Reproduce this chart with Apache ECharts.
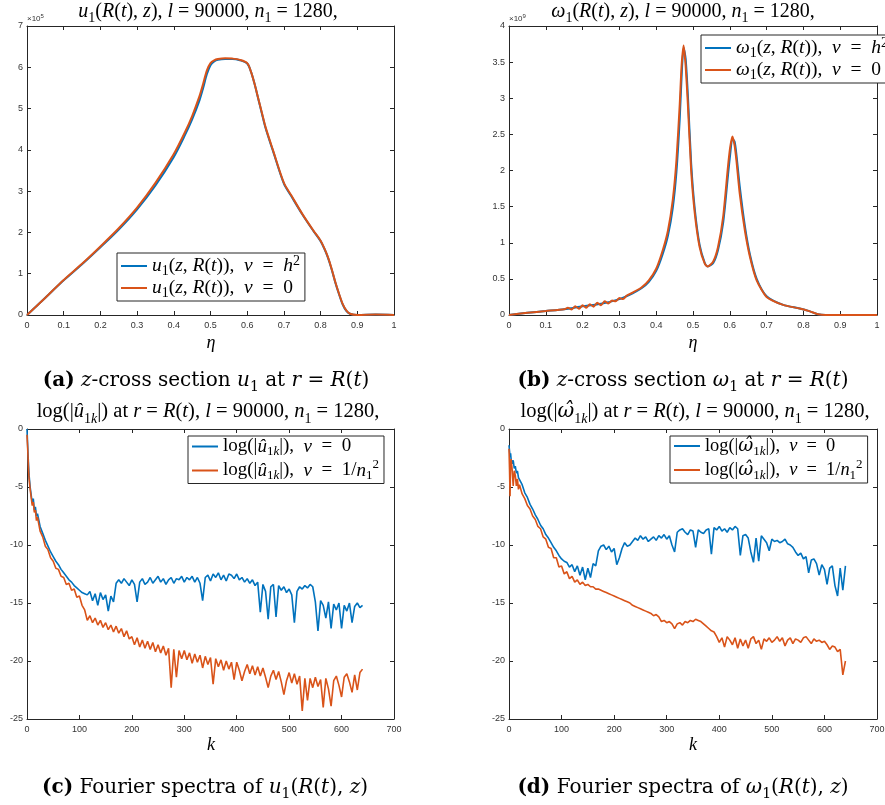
<!DOCTYPE html>
<html><head><meta charset="utf-8">
<script src="https://cdn.jsdelivr.net/npm/echarts@6/dist/echarts.min.js"></script>
<style>html,body{margin:0;padding:0;background:#fff}#c{width:885px;height:805px}</style>
</head><body><div id="c"></div><script>
// ---------- data ----------
const etaU = [0, 0.05, 0.1, 0.15, 0.2, 0.25, 0.3, 0.35, 0.4, 0.43, 0.45, 0.47, 0.48, 0.49, 0.5, 0.51, 0.52, 0.54, 0.56, 0.58, 0.6, 0.61, 0.62, 0.63, 0.64, 0.65, 0.67, 0.7, 0.72, 0.75, 0.78, 0.8, 0.81, 0.82, 0.83, 0.84, 0.85, 0.86, 0.87, 0.88, 0.9, 0.95, 1.0];
const uNuH2 = [0, 0.42, 0.84, 1.23, 1.64, 2.07, 2.56, 3.14, 3.83, 4.35, 4.74, 5.2, 5.5, 5.83, 6.05, 6.14, 6.18, 6.2, 6.2, 6.17, 6.09, 5.9, 5.6, 5.24, 4.88, 4.53, 3.98, 3.18, 2.88, 2.44, 2.04, 1.79, 1.61, 1.39, 1.11, 0.79, 0.51, 0.26, 0.1, 0.03, 0.0, 0.01, 0.0];
const uNu0 = [0, 0.42, 0.85, 1.24, 1.66, 2.1, 2.6, 3.2, 3.9, 4.42, 4.82, 5.3, 5.6, 5.92, 6.1, 6.17, 6.2, 6.22, 6.21, 6.18, 6.1, 5.9, 5.6, 5.25, 4.9, 4.55, 4.0, 3.2, 2.9, 2.45, 2.05, 1.8, 1.62, 1.4, 1.12, 0.8, 0.52, 0.27, 0.11, 0.03, 0.0, 0.01, 0.0];

const etaW = [0, 0.05, 0.1, 0.15, 0.2, 0.25, 0.3, 0.336, 0.36, 0.38, 0.4, 0.418, 0.432, 0.445, 0.455, 0.464, 0.469, 0.4745, 0.48, 0.486, 0.495, 0.505, 0.518, 0.532, 0.54, 0.555, 0.568, 0.582, 0.595, 0.601, 0.607, 0.613, 0.618, 0.627, 0.641, 0.655, 0.673, 0.7, 0.745, 0.79, 0.818, 0.84, 0.86, 0.9, 1.0];
const wNuH2 = [0, 0.03, 0.055, 0.08, 0.12, 0.155, 0.22, 0.3, 0.37, 0.46, 0.61, 0.85, 1.1, 1.48, 1.98, 2.72, 3.3, 3.7, 3.55, 3.05, 2.1, 1.46, 0.97, 0.72, 0.67, 0.72, 0.9, 1.28, 1.93, 2.22, 2.44, 2.4, 2.22, 1.78, 1.23, 0.83, 0.5, 0.26, 0.14, 0.09, 0.05, 0.01, 0, 0, 0];
const etaW0 = [0, 0.05, 0.1, 0.15, 0.16, 0.17, 0.18, 0.19, 0.2, 0.21, 0.22, 0.23, 0.24, 0.25, 0.26, 0.27, 0.28, 0.29, 0.3, 0.31, 0.32, 0.336, 0.36, 0.38, 0.4, 0.418, 0.432, 0.445, 0.455, 0.464, 0.469, 0.4745, 0.48, 0.486, 0.495, 0.505, 0.518, 0.532, 0.54, 0.555, 0.568, 0.582, 0.595, 0.601, 0.607, 0.613, 0.618, 0.627, 0.641, 0.655, 0.673, 0.7, 0.745, 0.79, 0.818, 0.84, 0.86, 0.9, 1.0];
const wNu0 = [0, 0.03, 0.055, 0.08, 0.1, 0.075, 0.12, 0.085, 0.135, 0.1, 0.15, 0.115, 0.17, 0.135, 0.19, 0.16, 0.2, 0.19, 0.235, 0.22, 0.27, 0.31, 0.38, 0.48, 0.64, 0.9, 1.17, 1.59, 2.14, 2.92, 3.45, 3.73, 3.45, 2.92, 2.0, 1.4, 0.94, 0.71, 0.67, 0.74, 0.94, 1.36, 2.05, 2.32, 2.47, 2.35, 2.14, 1.68, 1.17, 0.8, 0.48, 0.25, 0.14, 0.09, 0.05, 0.01, 0, 0, 0];

const kSpec = [0, 1, 2, 3, 4, 6, 8, 10, 12, 14, 16, 18,
  20, 25, 30, 35, 40, 45, 50, 55, 60, 65, 70, 75, 80, 85, 90, 95, 100, 105, 110, 115,
  120, 125, 130, 135, 140, 145, 150, 155, 160, 165, 170, 175, 180, 185, 190, 195, 200, 205, 210, 215,
  220, 225, 230, 235, 240, 245, 250, 255, 260, 265, 270, 275, 280, 285, 290, 295, 300, 305, 310, 315,
  320, 325, 330, 335, 340, 345, 350, 355, 360, 365, 370, 375, 380, 385, 390, 395, 400, 405, 410, 415,
  420, 425, 430, 435, 440, 445, 450, 455, 460, 465, 470, 475, 480, 485, 490, 495, 500, 505, 510, 515,
  520, 525, 530, 535, 540, 545, 550, 555, 560, 565, 570, 575, 580, 585, 590, 595, 600, 605, 610, 615,
  620, 625, 630, 635, 640];
const logU_nu0 = [0, -1.1, -2.2, -3.2, -4.0, -5.0, -5.7, -6.4, -6.0, -7.0, -6.7, -7.5,
  -7.3, -8.4, -9.0, -9.6, -10.1, -10.6, -11.0, -11.4, -11.7, -12.1, -12.4, -12.7, -13.0, -13.2, -13.5, -13.7, -13.9, -14.1, -14.2, -14.3,
  -14.0, -14.8, -14.2, -15.2, -14.1, -14.7, -14.3, -15.7, -14.4, -14.9, -13.3, -13.0, -13.3, -12.9, -13.2, -13.5, -13.0, -13.4, -14.9, -13.2,
  -12.9, -13.4, -13.2, -12.8, -13.3, -13.0, -12.7, -13.2, -12.9, -13.4, -13.0, -12.8, -13.3, -12.9, -13.0, -12.7, -13.2, -12.8, -13.0, -12.7,
  -13.2, -12.8, -13.3, -14.8, -12.8, -12.6, -13.1, -12.5, -12.8, -12.4, -13.0, -12.6, -13.1, -12.5, -12.6, -12.9, -12.5, -13.0, -12.8, -13.2,
  -12.9, -13.3, -13.0, -13.5, -13.2, -15.8, -13.4, -14.0, -16.4, -13.6, -13.4, -16.2, -13.5, -13.9, -13.6, -14.1, -13.8, -14.3, -16.7, -14.0,
  -13.6, -13.8, -13.5, -13.7, -13.4, -13.6, -14.9, -17.4, -14.8, -15.2, -16.3, -14.9, -17.2, -15.1, -15.6, -15.0, -17.2, -15.2, -15.7, -15.0,
  -16.7, -15.3, -15.0, -15.4, -15.2];
const logU_nu1 = [-0.5, -1.4, -2.4, -3.6, -4.3, -5.2, -5.9, -6.6, -6.3, -7.2, -7.0, -7.9,
  -7.6, -8.8, -9.3, -10.1, -10.4, -11.1, -11.4, -12.0, -12.1, -12.7, -12.8, -13.4, -13.3, -13.9, -13.8, -14.5, -14.4, -15.2, -15.6, -16.5,
  -16.1, -16.7, -16.3, -16.9, -16.5, -17.1, -16.7, -17.3, -16.9, -17.5, -17.0, -17.6, -17.2, -17.9, -17.4, -18.1, -17.9, -18.6, -18.0, -18.8,
  -18.2, -18.9, -18.3, -19.0, -18.4, -19.2, -18.6, -19.3, -18.7, -19.5, -18.9, -22.3, -19.0, -21.4, -19.1, -19.8, -19.1, -19.9, -19.3, -20.2,
  -19.4, -20.1, -19.5, -20.6, -19.6, -20.3, -19.7, -22.0, -19.8, -20.5, -19.9, -20.8, -20.0, -20.7, -20.1, -21.6, -20.1, -20.8, -21.7, -20.9,
  -20.3, -21.1, -20.4, -21.2, -20.5, -21.3, -20.6, -21.4, -22.3, -21.3, -20.8, -21.6, -20.9, -21.8, -22.9, -21.7, -21.0, -21.9, -21.1, -22.0,
  -21.3, -24.3, -21.5, -23.4, -21.5, -22.3, -21.4, -22.2, -21.6, -24.0, -21.5, -22.4, -23.9, -21.7, -21.3, -22.1, -23.1, -21.4, -21.1, -21.8,
  -22.7, -21.2, -22.5, -21.0, -20.7];
const logW_nu0 = [-1.4, -1.9, -2.4, -2.1, -2.6, -3.0, -2.7, -3.4, -3.2, -3.8, -3.6, -4.2,
  -4.1, -4.8, -5.5, -5.9, -6.5, -6.9, -7.4, -7.8, -8.3, -8.6, -9.1, -9.4, -9.8, -10.2, -10.5, -10.9, -11.2, -11.4, -11.5, -11.9,
  -11.7, -12.3, -11.8, -12.6, -11.9, -13.0, -12.0, -12.8, -11.6, -11.8, -10.5, -10.1, -10.0, -10.4, -10.1, -10.6, -10.3, -11.7, -11.1, -10.3,
  -9.8, -10.1, -10.0, -9.7, -9.4, -9.6, -9.2, -9.5, -9.3, -9.7, -9.5, -9.3, -9.6, -9.2, -9.4, -9.1, -9.5, -9.2, -10.0, -10.6,
  -8.9, -8.7, -8.6, -8.9, -9.1, -8.7, -8.8, -10.2, -8.7, -8.9, -9.0, -8.7, -8.6, -10.8, -8.5, -8.7, -8.4, -8.8, -8.6, -8.9,
  -8.5, -8.7, -8.4, -8.6, -10.9, -9.2, -9.1, -9.4, -10.6, -11.5, -9.4, -11.4, -9.2, -9.5, -9.8, -10.5, -9.5, -9.7, -9.6, -9.8,
  -9.7, -9.5, -9.9, -10.0, -10.2, -10.6, -10.9, -10.7, -11.2, -11.0, -12.4, -11.3, -11.2, -11.6, -12.6, -11.7, -12.1, -13.4, -12.0, -11.8,
  -13.5, -14.4, -12.0, -13.9, -11.8];
const logW_nu1 = [-1.7, -3.5, -5.8, -3.0, -2.6, -3.5, -4.9, -3.6, -4.0, -4.9, -4.3, -5.2,
  -4.8, -5.6, -6.0, -6.6, -6.9, -7.5, -7.8, -8.4, -8.6, -9.3, -9.5, -10.2, -10.3, -11.1, -11.1, -11.9, -11.8, -12.5, -12.3, -12.9,
  -12.7, -13.2, -13.0, -13.4, -13.2, -13.5, -13.4, -13.6, -13.6, -13.8, -13.8, -13.9, -14.0, -14.1, -14.2, -14.3, -14.4, -14.5, -14.6, -14.7,
  -14.8, -14.9, -15.0, -15.2, -15.3, -15.4, -15.5, -15.6, -15.7, -15.8, -15.9, -16.1, -16.0, -16.2, -16.6, -16.5, -16.7, -16.6, -16.8, -17.2,
  -16.8, -16.7, -16.9, -16.6, -16.7, -16.5, -16.6, -16.4, -16.5, -16.6, -16.8, -17.0, -17.2, -17.4, -17.5, -17.9, -18.4, -18.0, -18.8, -17.9,
  -18.2, -18.6, -18.0, -18.9, -18.1, -18.7, -18.2, -18.9, -18.1, -17.9, -18.5, -18.2, -19.0, -18.1, -18.3, -18.0, -18.4, -18.2, -17.9, -18.3,
  -18.0, -18.7, -18.2, -18.0, -18.5, -18.1, -18.2, -18.4, -18.0, -17.9, -18.2, -18.5, -18.1, -18.3, -18.2, -18.4, -18.3, -18.6, -19.0, -18.7,
  -18.8, -19.2, -19.0, -21.2, -20.0];

// ---------- styling ----------
const BLUE = '#0072BD', ORANGE = '#D95319', AX = '#262626';
const SERIF = '"Liberation Serif","DejaVu Serif",serif';
const SERIF2 = '"DejaVu Serif","Liberation Serif",serif';
const SANS = '"Liberation Sans",Arial,sans-serif';

function rich(size, colorProp, fam, lineH) {
  fam = fam || SERIF;
  const sub = Math.round(size * 0.7);
  const lh = lineH || Math.round(size * 1.35);
  const mk = (o) => { const r = Object.assign({fontFamily: fam}, o); r[colorProp] = '#000'; return r; };
  return {
    r: mk({fontSize: size, lineHeight: lh}),
    i: mk({fontSize: size, fontStyle: 'italic', lineHeight: lh}),
    w: mk({fontSize: size, fontStyle: 'italic', lineHeight: lh, fontFamily: SERIF2}),
    b: mk({fontSize: size, fontWeight: 'bold', lineHeight: lh}),
    s: mk({fontSize: sub, lineHeight: sub, verticalAlign: 'bottom'}),
    si: mk({fontSize: sub, fontStyle: 'italic', lineHeight: sub, verticalAlign: 'bottom'}),
    p: mk({fontSize: sub, lineHeight: sub, verticalAlign: 'top'})
  };
}
function gtext(x, y, text, size, fam) {
  return {type: 'text', x: x, y: y, z: 100,
    style: {text: text, rich: rich(size, 'fill', fam), align: 'center', verticalAlign: 'middle'}};
}
function expo(x, y, e) {
  return {type: 'text', x: x, y: y, z: 100, style: {text: '{a|×10}{e|' + e + '}', align: 'left', verticalAlign: 'middle',
    rich: {a: {fontFamily: SANS, fontSize: 8, fill: '#333', lineHeight: 12},
           e: {fontFamily: SANS, fontSize: 6, fill: '#333', lineHeight: 6, verticalAlign: 'top'}}}};
}

const titles = {
  a: '{i|u}{s|1}{r|(}{i|R}{r|(}{i|t}{r|), }{i|z}{r|), }{i|l}{r| = 90000, }{i|n}{s|1}{r| = 1280,}',
  b: '{i|ω}{s|1}{r|(}{i|R}{r|(}{i|t}{r|), }{i|z}{r|), }{i|l}{r| = 90000, }{i|n}{s|1}{r| = 1280,}',
  c: '{r|log(|}{i|û}{s|1}{si|k}{r||) at }{i|r}{r| = }{i|R}{r|(}{i|t}{r|), }{i|l}{r| = 90000, }{i|n}{s|1}{r| = 1280,}',
  d: '{r|log(|}{w|ω\u0302}{s|1}{si|k}{r||) at }{i|r}{r| = }{i|R}{r|(}{i|t}{r|), }{i|l}{r| = 90000, }{i|n}{s|1}{r| = 1280,}'
};
const captions = {
  a: '{b|(a)}{r| }{i|z}{r|-cross section }{i|u}{s|1}{r| at }{i|r}{r| = }{i|R}{r|(}{i|t}{r|)}',
  b: '{b|(b)}{r| }{i|z}{r|-cross section }{i|ω}{s|1}{r| at }{i|r}{r| = }{i|R}{r|(}{i|t}{r|)}',
  c: '{b|(c)}{r| Fourier spectra of }{i|u}{s|1}{r|(}{i|R}{r|(}{i|t}{r|), }{i|z}{r|)}',
  d: '{b|(d)}{r| Fourier spectra of }{i|ω}{s|1}{r|(}{i|R}{r|(}{i|t}{r|), }{i|z}{r|)}'
};
const legendLabels = {
  A1: '{i|u}{s|1}{r|(}{i|z}{r|, }{i|R}{r|(}{i|t}{r|)),  }{i|ν}{r|  =  }{i|h}{p|2}',
  A2: '{i|u}{s|1}{r|(}{i|z}{r|, }{i|R}{r|(}{i|t}{r|)),  }{i|ν}{r|  =  0}',
  B1: '{i|ω}{s|1}{r|(}{i|z}{r|, }{i|R}{r|(}{i|t}{r|)),  }{i|ν}{r|  =  }{i|h}{p|2}',
  B2: '{i|ω}{s|1}{r|(}{i|z}{r|, }{i|R}{r|(}{i|t}{r|)),  }{i|ν}{r|  =  0}',
  C1: '{r|log(|}{i|û}{s|1}{si|k}{r||),  }{i|ν}{r|  =  0}',
  C2: '{r|log(|}{i|û}{s|1}{si|k}{r||),  }{i|ν}{r|  =  1/}{i|n}{s|1}{p|2}',
  D1: '{r|log(|}{w|ω\u0302}{s|1}{si|k}{r||),  }{i|ν}{r|  =  0}',
  D2: '{r|log(|}{w|ω\u0302}{s|1}{si|k}{r||),  }{i|ν}{r|  =  1/}{i|n}{s|1}{p|2}'
};

const grids = [
  {left: 27, top: 26, width: 367, height: 289},
  {left: 509, top: 26, width: 368, height: 289},
  {left: 27, top: 429, width: 367, height: 290},
  {left: 509, top: 429, width: 368, height: 290}
].map(g => Object.assign(g, {containLabel: false, outerBoundsMode: 'none'}));

function ax(gi, min, max, interval, pos, labels) {
  return {type: 'value', gridIndex: gi, min: min, max: max, interval: interval, position: pos,
    axisLine: {show: true, onZero: false, lineStyle: {color: AX, width: 1}},
    axisTick: {show: true, inside: true, length: 4, lineStyle: {color: AX, width: 1}},
    axisLabel: {show: labels, color: '#333', fontSize: 9, fontFamily: SANS, margin: labels && (pos === 'bottom') ? 6 : 4},
    splitLine: {show: false}, silent: true};
}
const xr = [[0, 1, 0.1], [0, 1, 0.1], [0, 700, 100], [0, 700, 100]];
const yr = [[0, 7, 1], [0, 4, 0.5], [-25, 0, 5], [-25, 0, 5]];
const xAxis = [], yAxis = [];
for (let i = 0; i < 4; i++) xAxis.push(ax(i, xr[i][0], xr[i][1], xr[i][2], 'bottom', true));
for (let i = 0; i < 4; i++) xAxis.push(ax(i, xr[i][0], xr[i][1], xr[i][2], 'top', false));
for (let i = 0; i < 4; i++) yAxis.push(ax(i, yr[i][0], yr[i][1], yr[i][2], 'left', true));
for (let i = 0; i < 4; i++) yAxis.push(ax(i, yr[i][0], yr[i][1], yr[i][2], 'right', false));

function line(name, gi, xs, ys, color, width, smooth) {
  return {type: 'line', name: name, xAxisIndex: gi, yAxisIndex: gi,
    data: xs.map((x, i) => [x, ys[i]]), symbol: 'none', showSymbol: false, smooth: smooth,
    lineStyle: {color: color, width: width}, itemStyle: {color: color}, silent: true, clip: true};
}
const series = [
  line('A1', 0, etaU, uNuH2, BLUE, 2, 0.3),
  line('A2', 0, etaU, uNu0, ORANGE, 2, 0.3),
  line('B1', 1, etaW, wNuH2, BLUE, 2, 0.25),
  line('B2', 1, etaW0, wNu0, ORANGE, 2, 0.2),
  line('C1', 2, kSpec, logU_nu0, BLUE, 1.6, false),
  line('C2', 2, kSpec, logU_nu1, ORANGE, 1.6, false),
  line('D1', 3, kSpec, logW_nu0, BLUE, 1.6, false),
  line('D2', 3, kSpec, logW_nu1, ORANGE, 1.6, false)
];

function leg(names, left, top, size) {
  return {data: names, orient: 'vertical', left: left, top: top, itemWidth: 26, itemHeight: 2, itemGap: 0,
    icon: 'rect', borderColor: AX, borderWidth: 1, backgroundColor: '#fff', padding: [1, 5, 1, 4],
    selectedMode: false, formatter: n => legendLabels[n], textStyle: {rich: rich(size, 'color', SERIF, 24)}};
}

const graphic = [
  gtext(208, 12, titles.a, 20), gtext(683, 12, titles.b, 20),
  gtext(208, 412, titles.c, 20.5), gtext(695, 412, titles.d, 20.5),
  gtext(206, 381, captions.a, 20, SERIF2), gtext(683, 381, captions.b, 20, SERIF2),
  gtext(205, 788, captions.c, 20, SERIF2), gtext(683, 788, captions.d, 20, SERIF2),
  gtext(211, 343, '{i|η}', 18), gtext(693, 343, '{i|η}', 18),
  gtext(211, 745, '{i|k}', 18), gtext(693, 745, '{i|k}', 18),
  expo(27, 19, 5), expo(509, 19, 9)
];

const chart = echarts.init(document.getElementById('c'), null, {renderer: 'canvas'});
chart.setOption({
  animation: false, backgroundColor: '#fff',
  grid: grids, xAxis: xAxis, yAxis: yAxis, series: series,
  legend: [leg(['A1', 'A2'], 117, 253, 19.5), leg(['B1', 'B2'], 701, 35, 19.5),
           leg(['C1', 'C2'], 188, 436, 19), leg(['D1', 'D2'], 670, 436, 18.4)],
  graphic: graphic
});
</script></body></html>
